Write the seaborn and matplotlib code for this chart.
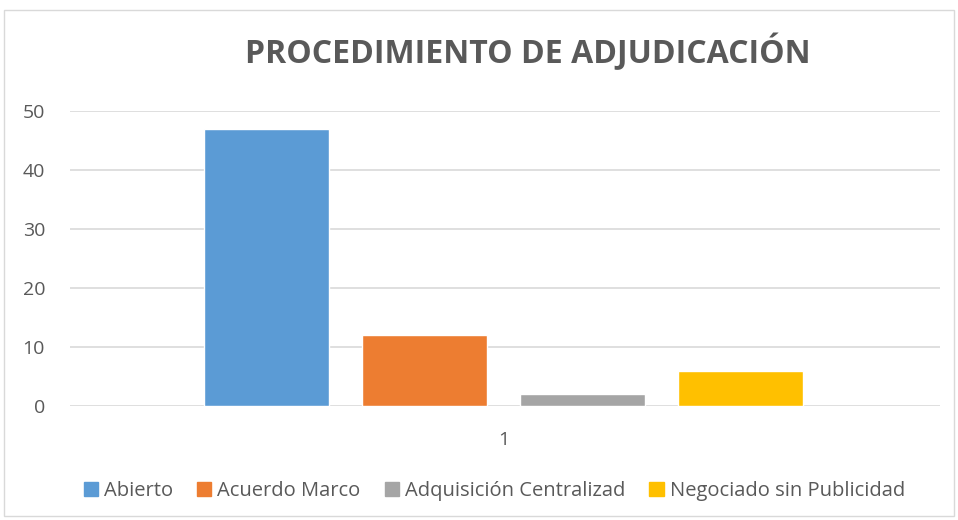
import matplotlib
matplotlib.use("Agg")
import matplotlib.pyplot as plt
import seaborn as sns
import pandas as pd
from matplotlib.patches import Rectangle

categories = ["1"]
series = ["Abierto", "Acuerdo Marco", "Adquisición Centralizad", "Negociado sin Publicidad"]
values = [47, 12, 2, 6]
colors = ["#5B9BD5", "#ED7D31", "#A5A5A5", "#FFC000"]

sns.set_theme(style="white")
plt.rcParams["font.family"] = ["Open Sans", "DejaVu Sans"]

df = pd.DataFrame({"cat": categories * len(series), "series": series, "value": values})

fig = plt.figure(figsize=(9.58, 5.2), dpi=100)
ax = fig.add_axes([70 / 958, 1 - 406 / 520, 870 / 958, 295 / 520])

sns.barplot(data=df, x="cat", y="value", hue="series", palette=colors,
            width=0.8, gap=0.21, ax=ax, legend=False, saturation=1)

ax.set_ylim(0, 50)
ax.set_xlim(-0.549, 0.552)
ax.set_yticks(range(0, 51, 10))
ax.yaxis.grid(True, color="#D9D9D9", linewidth=1.2)
ax.set_axisbelow(True)
for s in ax.spines.values():
    s.set_visible(False)
ax.tick_params(axis="both", length=0, labelsize=14, colors="#595959")
ax.tick_params(axis="y", pad=18)
ax.tick_params(axis="x", pad=18)
ax.set_xlabel("")
ax.set_ylabel("")
for lbl in ax.get_yticklabels():
    lbl.set_horizontalalignment("right")

fig.text(0.551, 1 - 52 / 520, "PROCEDIMIENTO DE ADJUDICACIÓN", ha="center", va="center",
         fontsize=23, fontweight="bold", color="#595959")

handles = [Rectangle((0, 0), 1, 1, color=c) for c in colors]
fig.legend(handles, series, loc="center", bbox_to_anchor=(0.516, 1 - 491 / 520), ncol=4,
           frameon=False, fontsize=14.5, labelcolor="#595959", handlelength=0.7,
           handleheight=0.7, handletextpad=0.3, columnspacing=1.2)

fig.patches.append(Rectangle((4 / 958, 4 / 520), 950 / 958, 506 / 520, transform=fig.transFigure,
                             fill=False, edgecolor="#D9D9D9", linewidth=1))

fig.savefig("out.png", dpi=100)
